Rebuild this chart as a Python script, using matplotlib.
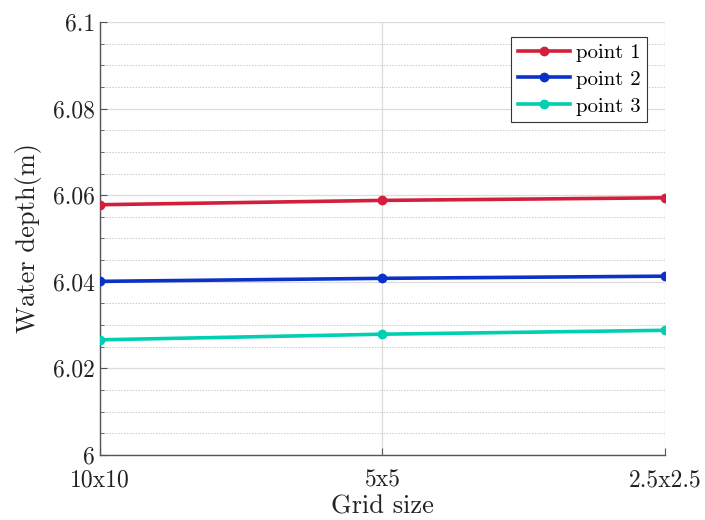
import numpy as np
import matplotlib
matplotlib.use('Agg')
import matplotlib.pyplot as plt
from matplotlib.ticker import MultipleLocator

# data
grid_labels = ['10x10', '5x5', '2.5x2.5']
point1 = [6.0578, 6.0588, 6.0594]
point2 = [6.0401, 6.0408, 6.0413]
point3 = [6.0266, 6.0279, 6.0288]
series_names = ['point 1', 'point 2', 'point 3']
colors = ['#D21F3C', '#0A32C8', '#00CFB0']

plt.rcParams['font.family'] = 'cmr10'
plt.rcParams['axes.formatter.use_mathtext'] = True

fig = plt.figure(figsize=(7.05, 5.2), dpi=100)
ax = fig.add_axes([0.1418, 0.125, 0.8015, 0.8327])

x = np.arange(len(grid_labels))
for ys, name, c in zip([point1, point2, point3], series_names, colors):
    ax.plot(x, ys, '-o', color=c, lw=2.6, ms=6, label=name, zorder=3)

ax.set_xlim(0, 2)
ax.set_ylim(6.0, 6.1)
ax.set_xticks(x)
ax.set_xticklabels(grid_labels)
ax.set_yticks([6.0, 6.02, 6.04, 6.06, 6.08, 6.1])
ax.set_yticklabels(['6', '6.02', '6.04', '6.06', '6.08', '6.1'])
ax.yaxis.set_minor_locator(MultipleLocator(0.005))

ax.grid(True, which='major', color='#DCDCDC', lw=0.9)
ax.grid(True, which='minor', axis='y', color='#C8C8C8', lw=0.7, ls=(0, (1.5, 1.5)))
ax.set_axisbelow(True)

for s in ['top', 'right']:
    ax.spines[s].set_visible(False)
for s in ['left', 'bottom']:
    ax.spines[s].set_color('#555555')
    ax.spines[s].set_linewidth(1.0)

ax.tick_params(axis='both', which='major', direction='in', length=5, width=0.8,
               color='#555555', labelsize=17, labelcolor='#222222')
ax.tick_params(axis='y', which='minor', direction='in', length=3, width=0.6, color='#555555')
ax.tick_params(axis='x', pad=10)

ax.set_xlabel('Grid size', fontsize=19, color='#222222', labelpad=3)
ax.set_ylabel('Water depth(m)', fontsize=19, color='#222222', labelpad=8)

leg = ax.legend(loc='upper right', bbox_to_anchor=(0.975, 0.975), fontsize=15,
                fancybox=False, edgecolor='#333333', framealpha=1,
                handlelength=2.5, borderpad=0.3, labelspacing=0.4, handletextpad=0.3,
                borderaxespad=0.2)
leg.get_frame().set_linewidth(0.8)

plt.savefig('out.png', dpi=100)
